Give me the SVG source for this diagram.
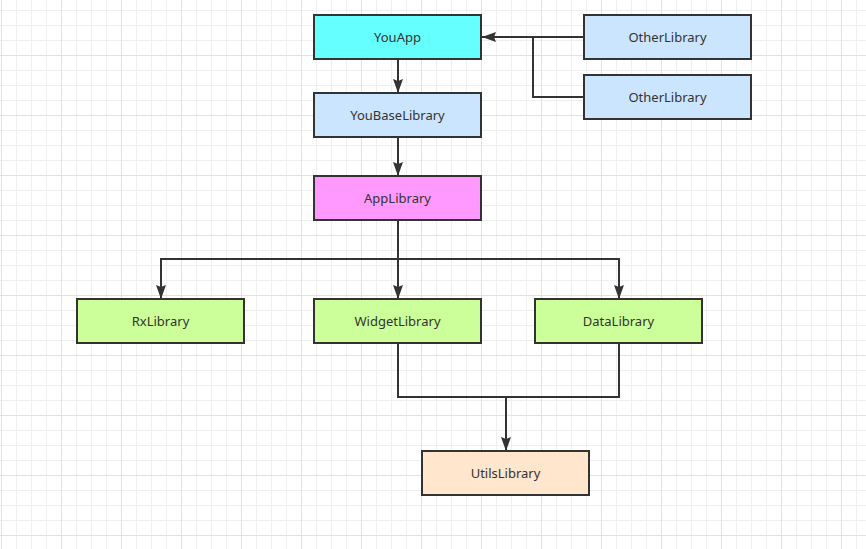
<svg xmlns="http://www.w3.org/2000/svg" width="866" height="549" viewBox="0 0 866 549">
<defs>
<pattern id="minor" patternUnits="userSpaceOnUse" x="1" y="10" width="15" height="15">
<path d="M0.5 0 V15 M0 0.5 H15" stroke="#efefef" stroke-width="1" fill="none"/>
</pattern>
<pattern id="major" patternUnits="userSpaceOnUse" x="1" y="55" width="60" height="60">
<path d="M0.5 0 V60 M0 0.5 H60" stroke="#e2e2e2" stroke-width="1" fill="none"/>
</pattern>
<marker id="arr" markerUnits="userSpaceOnUse" markerWidth="16" markerHeight="12" refX="14" refY="5" orient="auto" viewBox="0 0 16 12">
<path d="M0 0 L14 5 L0 10 L2 5 Z" fill="#333333"/>
</marker>
<style>
.node rect{stroke:#333333;stroke-width:2}
.node text{font-family:"Noto Sans","Liberation Sans",sans-serif;font-size:13px;fill:#333333;text-anchor:middle}
.edge{fill:none;stroke:#333333;stroke-width:2;marker-end:url(#arr)}
.plain{fill:none;stroke:#333333;stroke-width:2}
</style>
</defs>
<rect width="866" height="549" fill="#ffffff"/>
<rect width="866" height="549" fill="url(#minor)"/>
<rect width="866" height="549" fill="url(#major)"/>
<g id="connectors">
<path class="edge" d="M398 59 V93"/>
<path class="edge" d="M398 137 V176"/>
<path class="edge" d="M398 220 V299"/>
<path class="edge" d="M398 259 H161 V299"/>
<path class="edge" d="M398 259 H619 V299"/>
<path class="edge" d="M584 37 H482"/>
<path class="plain" d="M584 97 H533 V37"/>
<path class="plain" d="M398 343 V397 H619 V343"/>
<path class="edge" d="M506 397 V451"/>
</g>
<g id="YouApp" class="node"><rect x="314" y="15" width="167" height="44" fill="#66ffff"/><text x="397.5" y="41.5">YouApp</text></g>
<g id="OtherLibrary1" class="node"><rect x="584" y="15" width="167" height="44" fill="#cce5ff"/><text x="667.5" y="41.5">OtherLibrary</text></g>
<g id="OtherLibrary2" class="node"><rect x="584" y="75" width="167" height="44" fill="#cce5ff"/><text x="667.5" y="101.5">OtherLibrary</text></g>
<g id="YouBaseLibrary" class="node"><rect x="314" y="93" width="167" height="44" fill="#cce5ff"/><text x="397.5" y="119.5">YouBaseLibrary</text></g>
<g id="AppLibrary" class="node"><rect x="314" y="176" width="167" height="44" fill="#ff99ff"/><text x="397.5" y="202.5">AppLibrary</text></g>
<g id="RxLibrary" class="node"><rect x="77" y="299" width="167" height="44" fill="#ccff99"/><text x="160.5" y="325.5">RxLibrary</text></g>
<g id="WidgetLibrary" class="node"><rect x="314" y="299" width="167" height="44" fill="#ccff99"/><text x="397.5" y="325.5">WidgetLibrary</text></g>
<g id="DataLibrary" class="node"><rect x="535" y="299" width="167" height="44" fill="#ccff99"/><text x="618.5" y="325.5">DataLibrary</text></g>
<g id="UtilsLibrary" class="node"><rect x="422" y="451" width="167" height="44" fill="#ffe6cc"/><text x="505.5" y="477.5">UtilsLibrary</text></g>
</svg>
